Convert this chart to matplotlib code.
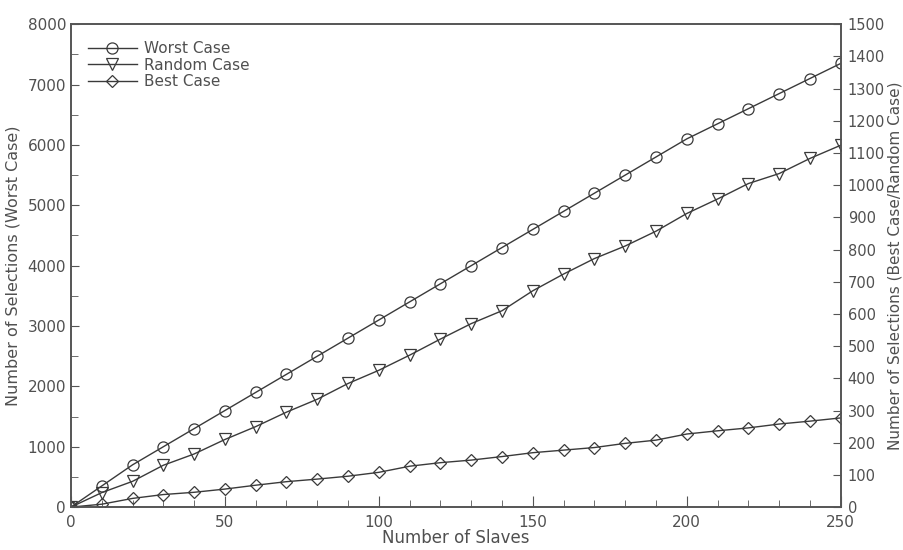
import numpy as np
import matplotlib
matplotlib.use("Agg")
import matplotlib.pyplot as plt
from matplotlib.ticker import MultipleLocator

# data
slaves = list(range(0, 260, 10))
worst = [0, 350, 700, 1000, 1300, 1600, 1900, 2200, 2500, 2800, 3100, 3400, 3700,
         4000, 4300, 4600, 4900, 5200, 5500, 5800, 6100, 6350, 6600, 6850, 7100, 7350]
random_case = [0, 45, 80, 130, 165, 210, 250, 295, 335, 384, 425, 472, 522,
               570, 610, 672, 724, 772, 811, 857, 912, 957, 1005, 1036, 1083, 1124]
best = [0, 9, 27, 39, 46, 56, 68, 79, 87, 96, 108, 127, 138,
        146, 157, 169, 177, 185, 198, 208, 227, 237, 246, 258, 267, 277]

INK = "#3a3a3a"
TXT = "#505050"

plt.rcParams["font.family"] = ["DejaVu Sans"]

fig = plt.figure(figsize=(9.04, 5.5), dpi=100)
ax = fig.add_axes([0.0785, 0.078, 0.8515, 0.878])
ax2 = ax.twinx()

mk = dict(color=INK, lw=1.0, mfc="none", mec=INK, mew=0.9)
l1, = ax.plot(slaves, worst, marker="o", ms=8, label="Worst Case", **mk)
l2, = ax2.plot(slaves, random_case, marker="v", ms=8.5, label="Random Case", **mk)
l3, = ax2.plot(slaves, best, marker="D", ms=6.5, label="Best Case", **mk)

ax.set_xlim(0, 250)
ax.set_ylim(0, 8000)
ax2.set_ylim(0, 1500)

ax.xaxis.set_major_locator(MultipleLocator(50))
ax.xaxis.set_minor_locator(MultipleLocator(10))
ax.yaxis.set_major_locator(MultipleLocator(1000))
ax.yaxis.set_minor_locator(MultipleLocator(500))
ax2.yaxis.set_major_locator(MultipleLocator(100))

for a in (ax, ax2):
    for s in a.spines.values():
        s.set_color("#555555")
        s.set_linewidth(1.2)
    a.tick_params(which="both", direction="in", colors="#555555",
                  labelcolor=TXT, labelsize=11)
    a.tick_params(which="major", length=8)
    a.tick_params(which="minor", length=5)

ax.tick_params(axis="x", pad=6)
ax.tick_params(axis="y", which="major", length=6)
ax2.tick_params(axis="y", length=6, labelsize=10.5, pad=5)

ax.set_xlabel("Number of Slaves", fontsize=12, color=TXT, labelpad=-1)
ax.set_ylabel("Number of Selections (Worst Case)", fontsize=11.5, color=TXT, labelpad=5)
ax2.set_ylabel("Number of Selections (Best Case/Random Case)", fontsize=11,
               color=TXT, labelpad=2)

leg = ax.legend(handles=[l1, l2, l3], loc="upper left", frameon=False,
                fontsize=11, handlelength=3.2, labelspacing=0.1,
                borderaxespad=0.7, handletextpad=0.5)
for t in leg.get_texts():
    t.set_color(TXT)

fig.savefig("out.png", dpi=100)
